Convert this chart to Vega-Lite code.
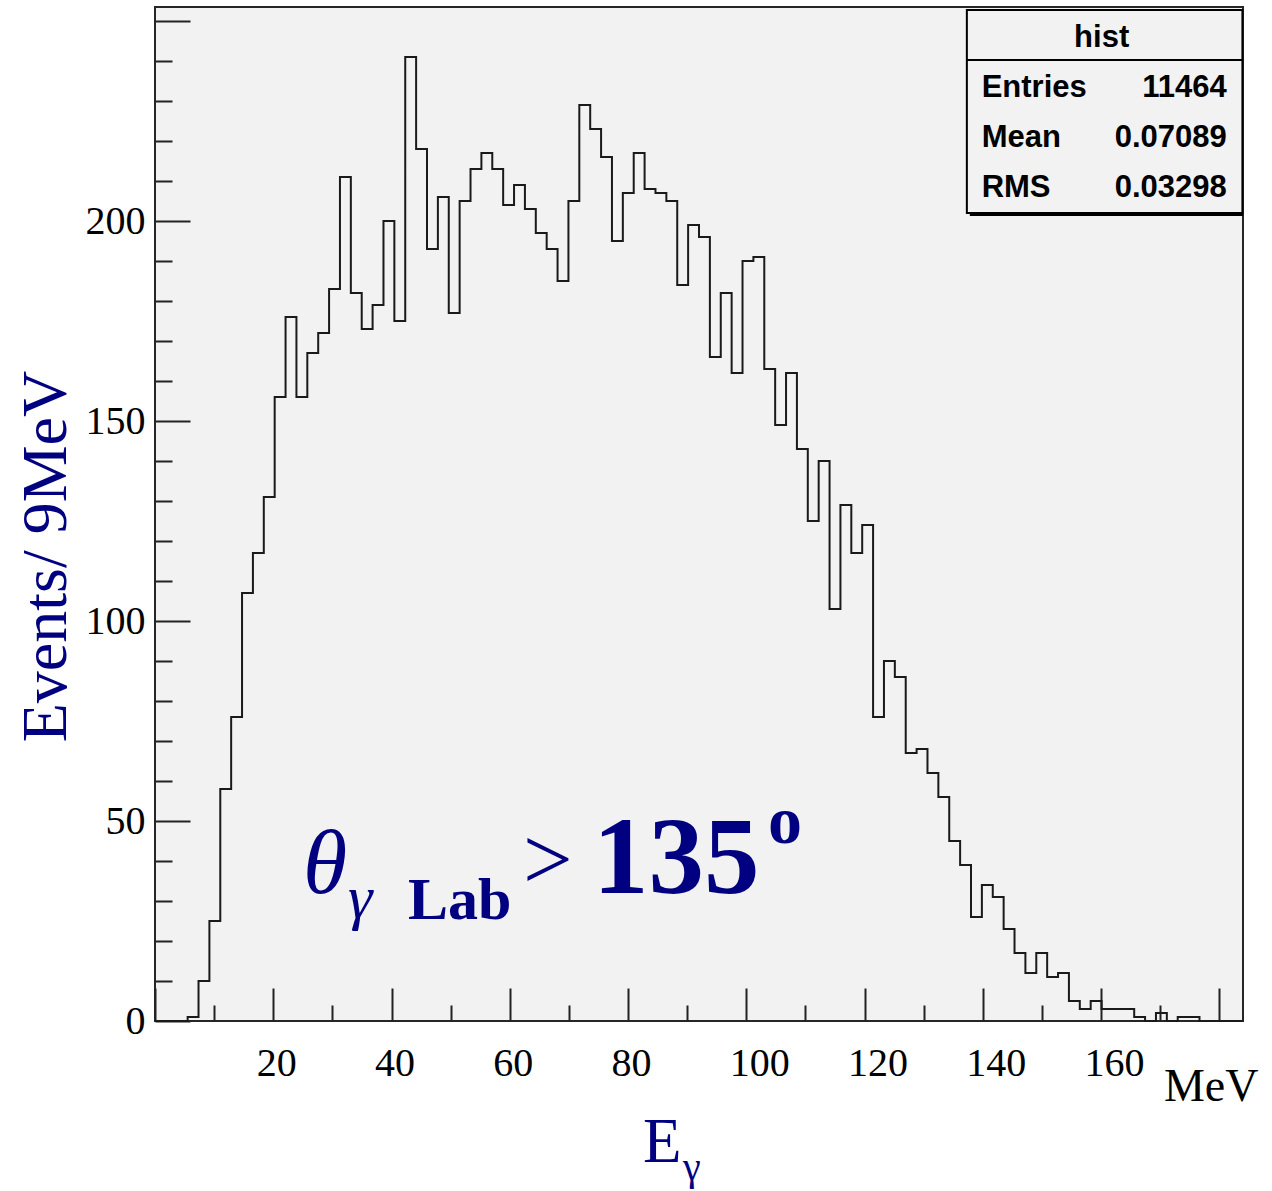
{
  "$schema": "https://vega.github.io/schema/vega-lite/v6.json",
  "width": 1088,
  "height": 1014,
  "autosize": {"type": "none"},
  "padding": {"left": 155, "top": 7, "right": 29, "bottom": 170},
  "background": "white",
  "config": {
    "view": {"fill": "#f2f2f2", "stroke": "#262626", "strokeWidth": 2}
  },
  "layer": [
    {
      "data": {
        "values": [
          {"e": 0, "n": 0}, {"e": 1.84, "n": 0}, {"e": 3.68, "n": 0}, {"e": 5.52, "n": 1}, {"e": 7.36, "n": 10},
          {"e": 9.2, "n": 25}, {"e": 11.04, "n": 58}, {"e": 12.88, "n": 76}, {"e": 14.72, "n": 107}, {"e": 16.56, "n": 117},
          {"e": 18.4, "n": 131}, {"e": 20.24, "n": 156}, {"e": 22.08, "n": 176}, {"e": 23.92, "n": 156}, {"e": 25.76, "n": 167},
          {"e": 27.6, "n": 172}, {"e": 29.44, "n": 183}, {"e": 31.28, "n": 211}, {"e": 33.12, "n": 182}, {"e": 34.96, "n": 173},
          {"e": 36.8, "n": 179}, {"e": 38.64, "n": 200}, {"e": 40.48, "n": 175}, {"e": 42.32, "n": 241}, {"e": 44.16, "n": 218},
          {"e": 46, "n": 193}, {"e": 47.84, "n": 206}, {"e": 49.68, "n": 177}, {"e": 51.52, "n": 205}, {"e": 53.36, "n": 213},
          {"e": 55.2, "n": 217}, {"e": 57.04, "n": 213}, {"e": 58.88, "n": 204}, {"e": 60.72, "n": 209}, {"e": 62.56, "n": 203},
          {"e": 64.4, "n": 197}, {"e": 66.24, "n": 193}, {"e": 68.08, "n": 185}, {"e": 69.92, "n": 205}, {"e": 71.76, "n": 229},
          {"e": 73.6, "n": 223}, {"e": 75.44, "n": 216}, {"e": 77.28, "n": 195}, {"e": 79.12, "n": 207}, {"e": 80.96, "n": 217},
          {"e": 82.8, "n": 208}, {"e": 84.64, "n": 207}, {"e": 86.48, "n": 205}, {"e": 88.32, "n": 184}, {"e": 90.16, "n": 199},
          {"e": 92, "n": 196}, {"e": 93.84, "n": 166}, {"e": 95.68, "n": 182}, {"e": 97.52, "n": 162}, {"e": 99.36, "n": 190},
          {"e": 101.2, "n": 191}, {"e": 103.04, "n": 163}, {"e": 104.88, "n": 149}, {"e": 106.72, "n": 162}, {"e": 108.56, "n": 143},
          {"e": 110.4, "n": 125}, {"e": 112.24, "n": 140}, {"e": 114.08, "n": 103}, {"e": 115.92, "n": 129}, {"e": 117.76, "n": 117},
          {"e": 119.6, "n": 124}, {"e": 121.44, "n": 76}, {"e": 123.28, "n": 90}, {"e": 125.12, "n": 86}, {"e": 126.96, "n": 67},
          {"e": 128.8, "n": 68}, {"e": 130.64, "n": 62}, {"e": 132.48, "n": 56}, {"e": 134.32, "n": 45}, {"e": 136.16, "n": 39},
          {"e": 138, "n": 26}, {"e": 139.84, "n": 34}, {"e": 141.68, "n": 31}, {"e": 143.52, "n": 23}, {"e": 145.36, "n": 17},
          {"e": 147.2, "n": 12}, {"e": 149.04, "n": 17}, {"e": 150.88, "n": 11}, {"e": 152.72, "n": 12}, {"e": 154.56, "n": 5},
          {"e": 156.4, "n": 3}, {"e": 158.24, "n": 5}, {"e": 160.08, "n": 3}, {"e": 161.92, "n": 3}, {"e": 163.76, "n": 3},
          {"e": 165.6, "n": 1}, {"e": 167.44, "n": 0}, {"e": 169.28, "n": 2}, {"e": 171.12, "n": 0}, {"e": 172.96, "n": 1},
          {"e": 174.8, "n": 1}, {"e": 176.64, "n": 0}, {"e": 178.48, "n": 0}, {"e": 180.32, "n": 0}, {"e": 182.16, "n": 0},
          {"e": 184, "n": 0}
        ]
      },
      "mark": {"type": "line", "interpolate": "step-after", "color": "#1a1a1a", "strokeWidth": 2},
      "encoding": {
        "x": {
          "field": "e",
          "type": "quantitative",
          "scale": {"domain": [0, 184], "nice": false, "zero": false},
          "axis": {
            "values": [0, 5, 10, 15, 20, 25, 30, 35, 40, 45, 50, 55, 60, 65, 70, 75, 80, 85, 90, 95, 100, 105, 110, 115, 120, 125, 130, 135, 140, 145, 150, 155, 160, 165, 170, 175, 180],
            "labelExpr": "datum.value % 20 === 0 && datum.value > 0 && datum.value < 170 ? datum.label : ''",
            "tickSize": {"condition": {"test": "datum.value % 20 === 0", "value": -33}, "value": -16},
            "tickColor": "#222222",
            "tickWidth": 2,
            "domain": false,
            "grid": false,
            "labelAlign": "left",
            "labelOffset": -17,
            "labelBaseline": "alphabetic",
            "labelPadding": 87,
            "labelFont": "Liberation Serif",
            "labelFontSize": 40,
            "labelColor": "#000000",
            "labelFlush": false,
            "labelOverlap": false,
            "labelBound": false,
            "title": "MeV",
            "titleX": 1103,
            "titleY": 79,
            "titleAlign": "right",
            "titleBaseline": "alphabetic",
            "titleAngle": 0,
            "titleFont": "Liberation Serif",
            "titleFontSize": 46,
            "titleFontWeight": "normal",
            "titleColor": "#000000"
          }
        },
        "y": {
          "field": "n",
          "type": "quantitative",
          "scale": {"domain": [0, 253.5], "nice": false, "zero": false},
          "axis": {
            "values": [0, 10, 20, 30, 40, 50, 60, 70, 80, 90, 100, 110, 120, 130, 140, 150, 160, 170, 180, 190, 200, 210, 220, 230, 240, 250],
            "labelExpr": "datum.value % 50 === 0 && datum.value < 250 ? datum.label : ''",
            "tickSize": {"condition": {"test": "datum.value % 50 === 0", "value": -35}, "value": -17},
            "tickColor": "#222222",
            "tickWidth": 2,
            "domain": false,
            "grid": false,
            "labelPadding": 45,
            "labelBaseline": "middle",
            "labelFont": "Liberation Serif",
            "labelFontSize": 40,
            "labelColor": "#000000",
            "labelFlush": false,
            "labelOverlap": false,
            "labelBound": false,
            "title": "Events/ 9MeV",
            "titleX": -90,
            "titleY": 549,
            "titleAngle": -90,
            "titleAlign": "center",
            "titleBaseline": "alphabetic",
            "titleFont": "Liberation Serif",
            "titleFontSize": 64,
            "titleFontWeight": "normal",
            "titleColor": "#000080"
          }
        }
      }
    },
    {
      "data": {"values": [{}]},
      "mark": {"type": "rect", "color": "#000000"},
      "encoding": {
        "x": {"datum": 137.8, "type": "quantitative"},
        "x2": {"datum": 184},
        "y": {"datum": 252.0, "type": "quantitative"},
        "y2": {"datum": 201.25}
      }
    },
    {
      "data": {"values": [{}]},
      "mark": {"type": "rect", "fill": "#f2f2f2", "stroke": "#000000", "strokeWidth": 2},
      "encoding": {
        "x": {"datum": 137.3, "type": "quantitative"},
        "x2": {"datum": 183.9},
        "y": {"datum": 252.75, "type": "quantitative"},
        "y2": {"datum": 202}
      }
    },
    {
      "data": {"values": [{}]},
      "mark": {"type": "rule", "color": "#000000", "strokeWidth": 2},
      "encoding": {
        "x": {"datum": 137.3, "type": "quantitative"},
        "x2": {"datum": 183.9},
        "y": {"datum": 240.25, "type": "quantitative"}
      }
    },
    {
      "data": {"values": [{"t": "hist"}]},
      "mark": {"type": "text", "font": "Liberation Sans", "fontWeight": "bold", "fontSize": 31, "align": "center", "baseline": "alphabetic", "color": "#000000"},
      "encoding": {
        "text": {"field": "t"},
        "x": {"datum": 160.1, "type": "quantitative"},
        "y": {"datum": 243.6, "type": "quantitative"}
      }
    },
    {
      "data": {"values": [
        {"label": "Entries", "value": "11464", "row": 231},
        {"label": "Mean", "value": "0.07089", "row": 218.5},
        {"label": "RMS", "value": "0.03298", "row": 206}
      ]},
      "layer": [
        {
          "mark": {"type": "text", "font": "Liberation Sans", "fontWeight": "bold", "fontSize": 31, "align": "left", "baseline": "alphabetic", "color": "#000000"},
          "encoding": {
            "text": {"field": "label"},
            "x": {"datum": 139.8, "type": "quantitative"},
            "y": {"field": "row", "type": "quantitative"}
          }
        },
        {
          "mark": {"type": "text", "font": "Liberation Sans", "fontWeight": "bold", "fontSize": 31, "align": "right", "baseline": "alphabetic", "color": "#000000"},
          "encoding": {
            "text": {"field": "value"},
            "x": {"datum": 181.25, "type": "quantitative"},
            "y": {"field": "row", "type": "quantitative"}
          }
        }
      ]
    },
    {
      "data": {"values": [{"t": "θ"}]},
      "mark": {"type": "text", "font": "Liberation Serif", "fontStyle": "italic", "fontSize": 90, "align": "left", "baseline": "alphabetic", "color": "#000080"},
      "encoding": {"text": {"field": "t"}, "x": {"datum": 25.03, "type": "quantitative"}, "y": {"datum": 32, "type": "quantitative"}}
    },
    {
      "data": {"values": [{"t": "γ"}]},
      "mark": {"type": "text", "font": "Liberation Serif", "fontStyle": "italic", "fontSize": 62, "align": "left", "baseline": "alphabetic", "color": "#000080"},
      "encoding": {"text": {"field": "t"}, "x": {"datum": 32.64, "type": "quantitative"}, "y": {"datum": 25.75, "type": "quantitative"}}
    },
    {
      "data": {"values": [{"t": "Lab"}]},
      "mark": {"type": "text", "font": "Liberation Serif", "fontWeight": "bold", "fontSize": 60, "align": "left", "baseline": "alphabetic", "color": "#000080"},
      "encoding": {"text": {"field": "t"}, "x": {"datum": 42.79, "type": "quantitative"}, "y": {"datum": 25.5, "type": "quantitative"}}
    },
    {
      "data": {"values": [{"t": ">"}]},
      "mark": {"type": "text", "font": "Liberation Serif", "fontSize": 88, "align": "left", "baseline": "alphabetic", "color": "#000080"},
      "encoding": {"text": {"field": "t"}, "x": {"datum": 62.24, "type": "quantitative"}, "y": {"datum": 33, "type": "quantitative"}}
    },
    {
      "data": {"values": [{"t": "135"}]},
      "mark": {"type": "text", "font": "Liberation Serif", "fontWeight": "bold", "fontSize": 111, "align": "left", "baseline": "alphabetic", "color": "#000080"},
      "encoding": {"text": {"field": "t"}, "x": {"datum": 74.07, "type": "quantitative"}, "y": {"datum": 32, "type": "quantitative"}}
    },
    {
      "data": {"values": [{"t": "o"}]},
      "mark": {"type": "text", "font": "Liberation Serif", "fontWeight": "bold", "fontSize": 68, "align": "left", "baseline": "alphabetic", "color": "#000080"},
      "encoding": {"text": {"field": "t"}, "x": {"datum": 103.67, "type": "quantitative"}, "y": {"datum": 44.5, "type": "quantitative"}}
    },
    {
      "data": {"values": [{"t": "E"}]},
      "mark": {"type": "text", "font": "Liberation Serif", "fontSize": 63, "align": "left", "baseline": "alphabetic", "color": "#000080"},
      "encoding": {"text": {"field": "t"}, "x": {"datum": 82.53, "type": "quantitative"}, "y": {"datum": -35.25, "type": "quantitative"}}
    },
    {
      "data": {"values": [{"t": "γ"}]},
      "mark": {"type": "text", "font": "Liberation Serif", "fontSize": 40, "align": "left", "baseline": "alphabetic", "color": "#000080"},
      "encoding": {"text": {"field": "t"}, "x": {"datum": 89.3, "type": "quantitative"}, "y": {"datum": -39.75, "type": "quantitative"}}
    }
  ]
}
